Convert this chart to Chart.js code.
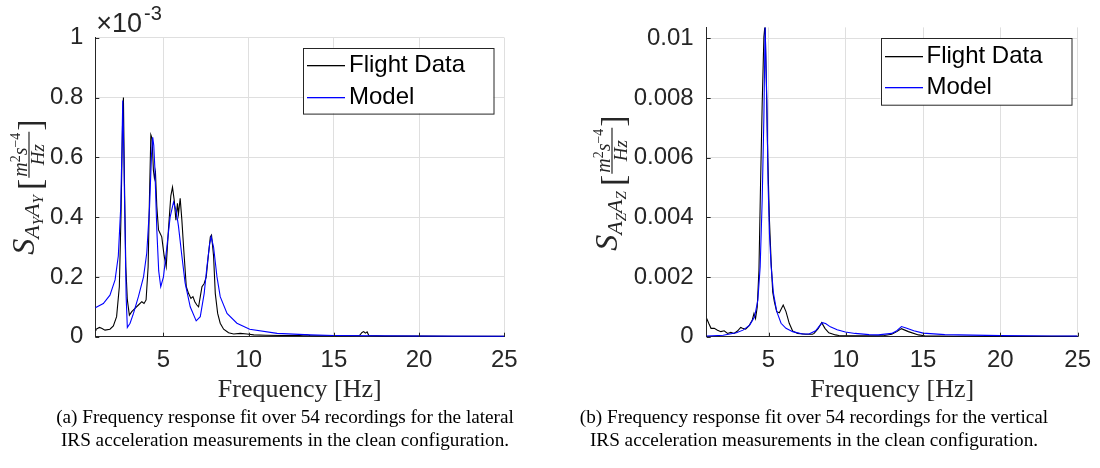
<!DOCTYPE html>
<html>
<head>
<meta charset="utf-8">
<script src="https://cdn.jsdelivr.net/npm/chart.js@4"></script>
<style>
  body { margin: 0; width: 1100px; height: 468px; background: #fff; position: relative; overflow: hidden; }
  canvas { position: absolute; top: 0; }
  #lat { left: 0; }
  #vert { left: 550px; }
  .cap { position: absolute; top: 405px; width: 540px; text-align: center;
         font: 19.2px/23px "Liberation Serif", "Times New Roman", serif; color: #000; }
</style>
</head>
<body>
<canvas id="lat" width="550" height="410"></canvas>
<canvas id="vert" width="550" height="410"></canvas>
<div class="cap" style="left:15px">(a) Frequency response fit over 54 recordings for the lateral<br>IRS acceleration measurements in the clean configuration.</div>
<div class="cap" style="left:544px">(b) Frequency response fit over 54 recordings for the vertical<br>IRS acceleration measurements in the clean configuration.</div>
<script>
// values, PSD in 1e-3 m^2 s^-4 / Hz
const freqLatFlight = [1.0, 1.04, 1.24, 1.37, 1.57, 1.86, 2.06, 2.25, 2.41, 2.51, 2.61, 2.65, 2.71, 2.79, 2.88, 3.0,
  3.14, 3.33, 3.53, 3.73, 3.86, 3.98, 4.10, 4.18, 4.26, 4.33, 4.41, 4.47, 4.53, 4.61, 4.71, 4.8, 4.9, 5.04, 5.16,
  5.29, 5.43, 5.53, 5.63, 5.73, 5.82, 5.88, 5.98, 6.08, 6.18, 6.34, 6.47, 6.61, 6.73, 6.84, 6.96, 7.06, 7.16, 7.26,
  7.39, 7.51, 7.63, 7.75, 7.82, 7.94, 8.04, 8.18, 8.33, 8.53, 8.82, 9.12, 9.51, 9.9, 10.3, 11, 12, 13, 13.4, 13.6,
  14, 15, 16, 16.5, 16.65, 16.75, 16.85, 16.95, 17.05, 18, 20, 22, 25];
const latFlight = [0.022, 0.025, 0.031, 0.028, 0.022, 0.025, 0.036, 0.067, 0.167, 0.41, 0.75, 0.80, 0.52, 0.234,
  0.123, 0.072, 0.084, 0.095, 0.106, 0.117, 0.111, 0.123, 0.234, 0.47, 0.675, 0.663, 0.557, 0.53, 0.55, 0.435,
  0.357, 0.346, 0.334, 0.27, 0.234, 0.357, 0.47, 0.50, 0.457, 0.39, 0.446, 0.41, 0.463, 0.39, 0.30, 0.167, 0.145,
  0.128, 0.134, 0.117, 0.106, 0.10, 0.134, 0.167, 0.178, 0.20, 0.27, 0.334, 0.34, 0.27, 0.145, 0.078, 0.045,
  0.025, 0.013, 0.009, 0.011, 0.009, 0.006, 0.005, 0.004, 0.004, 0.006, 0.004, 0.003, 0.003, 0.003, 0.004, 0.014,
  0.017, 0.012, 0.016, 0.004, 0.002, 0.002, 0.0015, 0.001];
const freqLatModel = [1.0, 1.47, 1.86, 2.16, 2.35, 2.49, 2.56, 2.61, 2.67, 2.73, 2.81, 2.88, 3.04, 3.24, 3.53, 3.83,
  4.02, 4.18, 4.30, 4.37, 4.43, 4.49, 4.61, 4.72, 4.84, 5.0, 5.2, 5.39, 5.59, 5.75, 5.88, 6.08, 6.27, 6.57, 6.92,
  7.16, 7.39, 7.55, 7.71, 7.80, 7.94, 8.14, 8.33, 8.73, 9.31, 10.06, 11.67, 13.6, 15, 20, 25];
const latModel = [0.097, 0.111, 0.139, 0.19, 0.27, 0.43, 0.62, 0.79, 0.62, 0.41, 0.134, 0.031, 0.045, 0.078, 0.134,
  0.20, 0.28, 0.43, 0.61, 0.667, 0.64, 0.57, 0.357, 0.22, 0.167, 0.20, 0.30, 0.40, 0.45, 0.42, 0.37, 0.27, 0.18,
  0.10, 0.053, 0.067, 0.145, 0.234, 0.31, 0.334, 0.30, 0.20, 0.134, 0.078, 0.045, 0.025, 0.011, 0.006, 0.004,
  0.002, 0.001];

const freqVertFlight = [1.0, 1.13, 1.28, 1.49, 1.7, 1.92, 2.13, 2.35, 2.56, 2.77, 2.99, 3.2, 3.31, 3.52, 3.73, 3.95,
  4.06, 4.16, 4.27, 4.38, 4.48, 4.59, 4.7, 4.78, 4.86, 4.95, 5.06, 5.17, 5.27, 5.38, 5.53, 5.7, 5.95, 6.13, 6.34,
  6.56, 6.88, 7.41, 7.84, 7.95, 8.22, 8.44, 8.65, 8.9, 9.33, 9.55, 10.5, 11.7, 12.5, 12.97, 13.3, 13.6, 14.05,
  14.7, 15.1, 17, 20, 25];
const vertFlight = [0.61, 0.45, 0.28, 0.28, 0.22, 0.17, 0.2, 0.11, 0.145, 0.11, 0.19, 0.31, 0.28, 0.25, 0.36, 0.56,
  0.78, 0.61, 1.0, 2.23, 5.0, 7.8, 10.05, 10.5, 8.5, 6.0, 3.9, 2.5, 1.5, 1.17, 0.84, 0.80, 1.06, 0.84, 0.45, 0.19,
  0.11, 0.08, 0.08, 0.11, 0.28, 0.47, 0.28, 0.13, 0.06, 0.04, 0.03, 0.03, 0.04, 0.08, 0.17, 0.27, 0.17, 0.06,
  0.03, 0.015, 0.01, 0.01];
const freqVertModel = [1.0, 2.07, 2.92, 3.35, 3.78, 4.1, 4.31, 4.46, 4.59, 4.70, 4.78, 4.89, 4.97, 5.06, 5.17, 5.32,
  5.53, 5.81, 6.13, 6.56, 7.2, 7.62, 8.05, 8.26, 8.48, 8.69, 9.0, 9.44, 9.97, 10.6, 11.5, 12.1, 12.97, 13.3, 13.6,
  13.9, 14.4, 15.0, 16.4, 20, 23.3, 25];
const vertModel = [0.02, 0.05, 0.13, 0.22, 0.39, 0.67, 1.23, 2.35, 4.58, 7.37, 10.4, 7.93, 5.14, 3.46, 2.35, 1.45,
  0.85, 0.45, 0.28, 0.17, 0.09, 0.09, 0.2, 0.34, 0.47, 0.44, 0.33, 0.23, 0.16, 0.11, 0.07, 0.06, 0.11, 0.20, 0.34,
  0.29, 0.20, 0.12, 0.07, 0.035, 0.023, 0.02];

const freqTicks = [5, 10, 15, 20, 25];
const latTicks = [0, 0.2, 0.4, 0.6, 0.8, 1];
const vertTicks = [0, 0.002, 0.004, 0.006, 0.008, 0.01];
const seriesNames = ["Flight Data", "Model"];
const seriesColors = ["#000000", "#0000ff"];

const SANS = '"Liberation Sans", Arial, Helvetica, sans-serif';
const SERIF = '"Liberation Serif", "Times New Roman", serif';
const AXIS = "#262626";
const GRID = "#dfdfdf";

Chart.defaults.font.family = SANS;

function pts(xs, ys, k) {
  return xs.map((x, i) => ({ x: x, y: ys[i] * k }));
}

// S_{A? A?} [ m^2 s^-4 / Hz ], rotated like the matlab latex label
function drawYLabel(ctx, bx, cy, sub) {
  const it = s => "italic " + s + "px " + SERIF;
  const run = [["S", it(32), 0], ["A", it(22), 5], [sub, it(15), 9], ["A", it(22), 5], [sub, it(15), 9]];
  const num = [["m", it(20), -7.5], ["2", "14px " + SERIF, -14], ["s", it(20), -7.5], ["\u22124", "14px " + SERIF, -14]];
  const den = [["H", it(19), 10], ["z", it(19), 10]];
  ctx.save();
  ctx.fillStyle = AXIS;
  ctx.strokeStyle = AXIS;
  ctx.textAlign = "left";
  ctx.textBaseline = "alphabetic";
  const w = parts => parts.reduce((s, p) => { ctx.font = p[1]; return s + ctx.measureText(p[0]).width; }, 0);
  const wRun = w(run), wNum = w(num), wDen = w(den);
  ctx.font = "34px " + SERIF;
  const bw = ctx.measureText("[").width;
  const fw = Math.max(wNum, wDen) + 4;
  const total = wRun + 5 + bw + fw + bw;
  ctx.translate(bx, cy);
  ctx.rotate(-Math.PI / 2);
  let u = -total / 2;
  const put = parts => parts.forEach(p => { ctx.font = p[1]; ctx.fillText(p[0], u, p[2]); u += ctx.measureText(p[0]).width; });
  put(run);
  u += 5;
  ctx.font = "34px " + SERIF;
  ctx.fillText("[", u, 7);
  u += bw;
  const f0 = u;
  u = f0 + (fw - wNum) / 2;
  put(num);
  u = f0 + (fw - wDen) / 2;
  put(den);
  ctx.lineWidth = 1.2;
  ctx.beginPath();
  ctx.moveTo(f0 + 1, -5);
  ctx.lineTo(f0 + fw - 1, -5);
  ctx.stroke();
  ctx.font = "34px " + SERIF;
  ctx.fillText("]", f0 + fw, 7);
  ctx.restore();
}

function decorations(o) {
  return {
    id: "matlabLook",
    afterDraw(chart) {
      const ctx = chart.ctx;
      const a = chart.chartArea;
      const xs = chart.scales.x, ys = chart.scales.y;
      ctx.save();
      // inward tick marks
      ctx.strokeStyle = AXIS;
      ctx.lineWidth = 1;
      ctx.beginPath();
      xs.ticks.forEach(t => {
        const px = Math.round(xs.getPixelForValue(t.value)) + 0.5;
        ctx.moveTo(px, a.bottom);
        ctx.lineTo(px, a.bottom - 4);
      });
      ys.ticks.forEach(t => {
        const py = Math.round(ys.getPixelForValue(t.value)) + 0.5;
        ctx.moveTo(a.left, py);
        ctx.lineTo(a.left + 4, py);
      });
      ctx.stroke();

      if (o.exponent) {
        ctx.fillStyle = AXIS;
        ctx.textAlign = "left";
        ctx.textBaseline = "alphabetic";
        ctx.font = "27px " + SANS;
        ctx.fillText("\u00d710", a.left + 1, 32);
        const ww = ctx.measureText("\u00d710").width;
        ctx.font = "20px " + SANS;
        ctx.fillText(o.exponent, a.left + 3 + ww, 20);
      }

      // legend box
      const L = o.legend;
      ctx.fillStyle = "#fff";
      ctx.fillRect(L.x, L.y, L.w, L.h);
      ctx.strokeStyle = AXIS;
      ctx.lineWidth = 1;
      ctx.strokeRect(Math.round(L.x) + 0.5, Math.round(L.y) + 0.5, L.w, L.h);
      ctx.font = "24px " + SANS;
      ctx.textBaseline = "middle";
      chart.data.datasets.forEach((d, i) => {
        const yy = Math.round(L.y + L.rows[i]);
        ctx.fillStyle = seriesColors[i];
        ctx.fillRect(Math.round(L.x) + 4, yy, 38, 1.3);
        ctx.fillStyle = "#000";
        ctx.fillText(d.label, L.x + 46, yy);
      });
      ctx.restore();

      drawYLabel(ctx, o.labelX, o.labelY, o.sub);
    }
  };
}

function psdChart(id, o) {
  return new Chart(document.getElementById(id), {
    type: "line",
    data: {
      datasets: [
        { label: seriesNames[0], data: o.flight, borderColor: seriesColors[0], borderWidth: 1.1, pointRadius: 0, order: 1 },
        { label: seriesNames[1], data: o.model, borderColor: seriesColors[1], borderWidth: 1.1, pointRadius: 0, order: 0 }
      ]
    },
    options: {
      responsive: false,
      animation: false,
      layout: { padding: o.pad },
      plugins: { legend: { display: false }, tooltip: { enabled: false } },
      scales: {
        x: {
          type: "linear",
          min: 1,
          max: 25,
          afterBuildTicks: s => { s.ticks = freqTicks.map(v => ({ value: v })); },
          ticks: { autoSkip: false, maxRotation: 0, padding: 9, color: AXIS, font: { size: 24 } },
          grid: { color: GRID, drawTicks: false },
          border: { color: AXIS, width: 1 },
          title: { display: true, text: "Frequency [Hz]", color: AXIS, font: { family: SERIF, size: 26 }, padding: { top: 0, bottom: 1 } },
          afterFit: s => { s.height = 70; }
        },
        y: {
          type: "linear",
          min: 0,
          max: o.ymax,
          afterBuildTicks: s => { s.ticks = o.ticks.map(v => ({ value: v })); },
          ticks: { autoSkip: false, padding: o.ypad, color: AXIS, font: { size: 24 }, callback: o.fmt },
          grid: { color: GRID, drawTicks: false },
          border: { color: AXIS, width: 1 },
          afterFit: s => { s.width = o.yWidth; }
        }
      }
    },
    plugins: [decorations(o)]
  });
}

psdChart("lat", {
  flight: pts(freqLatFlight, latFlight, 1),
  model: pts(freqLatModel, latModel, 1),
  ymax: 1,
  ticks: latTicks,
  fmt: v => String(Math.round(v * 10) / 10),
  ypad: 12,
  yWidth: 95.3,
  pad: { top: 37.7, bottom: 3.3, left: 0, right: 45.7 },
  exponent: "-3",
  legend: { x: 303, y: 47.7, w: 190.5, h: 65.6, rows: [17.3, 49] },
  labelX: 34, labelY: 187, sub: "Y"
});

psdChart("vert", {
  flight: pts(freqVertFlight, vertFlight, 1e-3),
  model: pts(freqVertModel, vertModel, 1e-3),
  ymax: 0.01037,
  ticks: vertTicks,
  fmt: v => String(Math.round(v * 1e6) / 1e6),
  ypad: 13,
  yWidth: 156.7,
  pad: { top: 27.3, bottom: 3.3, left: 0, right: 18.7 },
  exponent: null,
  legend: { x: 330.5, y: 38.3, w: 190.5, h: 66.7, rows: [17.7, 49] },
  labelX: 67, labelY: 183, sub: "Z"
});
</script>
</body>
</html>
